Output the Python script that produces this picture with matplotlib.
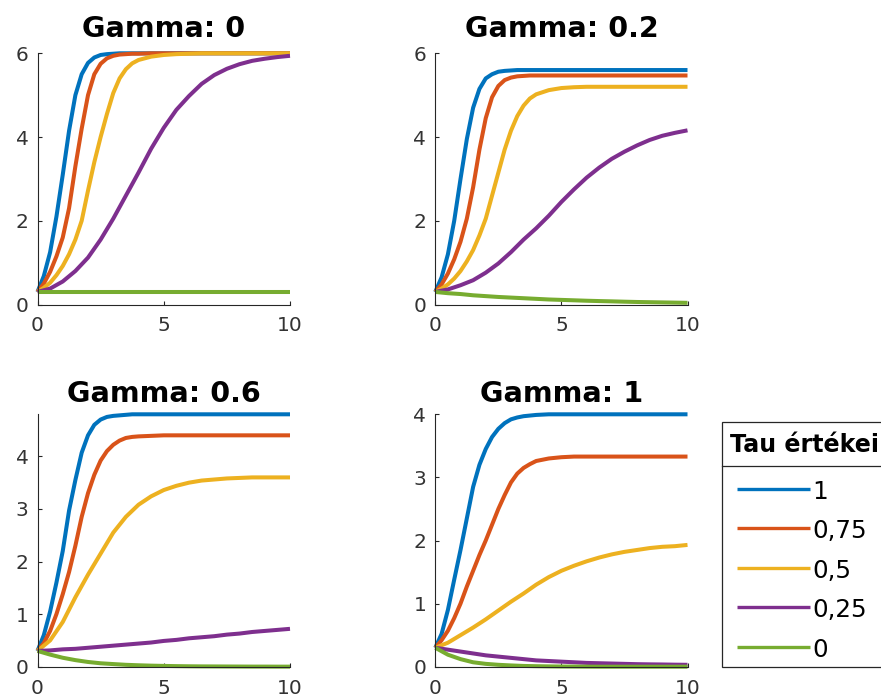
import matplotlib
matplotlib.use("Agg")
import matplotlib.pyplot as plt
from matplotlib.patches import Rectangle

plt.rcParams['font.family'] = ['DejaVu Sans']

# ---- data ----
t_fine = [0, 0.25, 0.5, 0.75, 1, 1.25, 1.5, 1.75, 2, 2.25, 2.5, 2.75, 3, 3.25, 3.5, 3.75, 4,
          4.5, 5, 5.5, 6, 6.5, 7, 7.5, 8, 8.5, 9, 9.5, 10]
t_coarse = [0, 0.5, 1, 1.5, 2, 2.5, 3, 3.5, 4, 4.5, 5, 5.5, 6, 6.5, 7, 7.5, 8, 8.5, 9, 9.5, 10]

tau_labels = ['1', '0,75', '0,5', '0,25', '0']
gamma_titles = ['Gamma: 0', 'Gamma: 0.2', 'Gamma: 0.6', 'Gamma: 1']

# Gamma 0
g0_tau1 = [0.3, 0.68, 1.25, 2.1, 3.1, 4.15, 5.0, 5.5, 5.77, 5.9, 5.96, 5.98, 5.99, 6.0, 6.0, 6.0, 6.0,
           6.0, 6.0, 6.0, 6.0, 6.0, 6.0, 6.0, 6.0, 6.0, 6.0, 6.0, 6.0]
g0_tau075 = [0.3, 0.5, 0.78, 1.15, 1.6, 2.3, 3.3, 4.2, 5.0, 5.5, 5.75, 5.88, 5.94, 5.97, 5.98, 5.99, 5.99,
             6.0, 6.0, 6.0, 6.0, 6.0, 6.0, 6.0, 6.0, 6.0, 6.0, 6.0, 6.0]
g0_tau05 = [0.3, 0.4, 0.52, 0.7, 0.92, 1.2, 1.55, 2.0, 2.72, 3.4, 4.0, 4.55, 5.05, 5.4, 5.62, 5.76, 5.84,
            5.92, 5.96, 5.98, 5.99, 6.0, 6.0, 6.0, 6.0, 6.0, 6.0, 6.0, 6.0]
g0_tau025 = [0.3, 0.38, 0.55, 0.8, 1.12, 1.55, 2.05, 2.6, 3.15, 3.72, 4.22, 4.65, 4.98, 5.27, 5.48,
             5.63, 5.74, 5.82, 5.87, 5.91, 5.94]
g0_tau0 = [0.3] * 21

# Gamma 0.2
g02_tau1 = [0.3, 0.65, 1.2, 2.0, 3.0, 3.95, 4.7, 5.15, 5.4, 5.5, 5.56, 5.58, 5.59, 5.6, 5.6, 5.6, 5.6,
            5.6, 5.6, 5.6, 5.6, 5.6, 5.6, 5.6, 5.6, 5.6, 5.6, 5.6, 5.6]
g02_tau075 = [0.3, 0.48, 0.74, 1.08, 1.5, 2.05, 2.8, 3.7, 4.45, 4.95, 5.22, 5.36, 5.42, 5.45, 5.46, 5.47, 5.47,
              5.47, 5.47, 5.47, 5.47, 5.47, 5.47, 5.47, 5.47, 5.47, 5.47, 5.47, 5.47]
g02_tau05 = [0.3, 0.38, 0.48, 0.62, 0.8, 1.03, 1.3, 1.65, 2.05, 2.6, 3.15, 3.7, 4.15, 4.5, 4.75, 4.92, 5.02,
             5.12, 5.17, 5.19, 5.2, 5.2, 5.2, 5.2, 5.2, 5.2, 5.2, 5.2, 5.2]
g02_tau025 = [0.3, 0.36, 0.46, 0.58, 0.76, 0.98, 1.25, 1.55, 1.82, 2.12, 2.45, 2.75, 3.03, 3.27, 3.48,
              3.65, 3.8, 3.93, 4.03, 4.1, 4.16]
g02_tau0 = [0.3, 0.27, 0.25, 0.22, 0.2, 0.18, 0.165, 0.15, 0.135, 0.12, 0.11, 0.1, 0.09, 0.082, 0.075,
            0.067, 0.06, 0.055, 0.05, 0.045, 0.04]

# Gamma 0.6
g06_tau1 = [0.3, 0.6, 1.05, 1.6, 2.2, 2.97, 3.55, 4.07, 4.4, 4.6, 4.7, 4.75, 4.77, 4.78, 4.79, 4.8, 4.8,
            4.8, 4.8, 4.8, 4.8, 4.8, 4.8, 4.8, 4.8, 4.8, 4.8, 4.8, 4.8]
g06_tau075 = [0.3, 0.45, 0.68, 1.0, 1.38, 1.8, 2.3, 2.85, 3.3, 3.65, 3.92, 4.1, 4.22, 4.3, 4.35, 4.37, 4.38,
              4.39, 4.4, 4.4, 4.4, 4.4, 4.4, 4.4, 4.4, 4.4, 4.4, 4.4, 4.4]
g06_tau05 = [0.3, 0.5, 0.85, 1.32, 1.75, 2.15, 2.55, 2.85, 3.08, 3.24, 3.36, 3.44, 3.5, 3.54, 3.56,
             3.58, 3.59, 3.6, 3.6, 3.6, 3.6]
g06_tau025 = [0.3, 0.31, 0.33, 0.34, 0.36, 0.38, 0.4, 0.42, 0.44, 0.46, 0.49, 0.51, 0.54, 0.56, 0.58,
              0.61, 0.63, 0.66, 0.68, 0.7, 0.72]
g06_tau0 = [0.3, 0.23, 0.17, 0.125, 0.09, 0.065, 0.05, 0.036, 0.027, 0.02, 0.015, 0.011, 0.008, 0.006,
            0.005, 0.004, 0.003, 0.002, 0.002, 0.001, 0.001]

# Gamma 1
g1_tau1 = [0.3, 0.52, 0.9, 1.38, 1.85, 2.35, 2.85, 3.2, 3.45, 3.64, 3.77, 3.86, 3.92, 3.95, 3.97, 3.98, 3.99,
           4.0, 4.0, 4.0, 4.0, 4.0, 4.0, 4.0, 4.0, 4.0, 4.0, 4.0, 4.0]
g1_tau075 = [0.3, 0.42, 0.57, 0.77, 1.0, 1.27, 1.52, 1.77, 2.0, 2.25, 2.5, 2.72, 2.92, 3.06, 3.15, 3.21, 3.26,
             3.3, 3.32, 3.33, 3.33, 3.33, 3.33, 3.33, 3.33, 3.33, 3.33, 3.33, 3.33]
g1_tau05 = [0.3, 0.38, 0.5, 0.62, 0.75, 0.89, 1.03, 1.16, 1.3, 1.42, 1.52, 1.6, 1.67, 1.73, 1.78,
            1.82, 1.85, 1.88, 1.9, 1.91, 1.93]
g1_tau025 = [0.3, 0.27, 0.24, 0.21, 0.18, 0.16, 0.14, 0.12, 0.1, 0.09, 0.08, 0.07, 0.06, 0.055, 0.05,
             0.045, 0.04, 0.037, 0.035, 0.032, 0.03]
g1_tau0 = [0.3, 0.19, 0.12, 0.07, 0.045, 0.03, 0.02, 0.012, 0.008, 0.005, 0.003, 0.002, 0.001,
           0.0, 0.0, 0.0, 0.0, 0.0, 0.0, 0.0, 0.0]

panels = [
    [(t_fine, g0_tau1), (t_fine, g0_tau075), (t_fine, g0_tau05), (t_coarse, g0_tau025), (t_coarse, g0_tau0)],
    [(t_fine, g02_tau1), (t_fine, g02_tau075), (t_fine, g02_tau05), (t_coarse, g02_tau025), (t_coarse, g02_tau0)],
    [(t_fine, g06_tau1), (t_fine, g06_tau075), (t_coarse, g06_tau05), (t_coarse, g06_tau025), (t_coarse, g06_tau0)],
    [(t_fine, g1_tau1), (t_fine, g1_tau075), (t_coarse, g1_tau05), (t_coarse, g1_tau025), (t_coarse, g1_tau0)],
]
y_limits = [(0, 6), (0, 6), (0, 4.8), (0, 4)]
y_ticks = [[0, 2, 4, 6], [0, 2, 4, 6], [0, 1, 2, 3, 4], [0, 1, 2, 3, 4]]
x_ticks = [0, 5, 10]

# ---- style ----
colors = ['#0072BD', '#D95319', '#EDB120', '#7E2F8E', '#77AC30']
W, H = 881, 697
fig = plt.figure(figsize=(W / 100, H / 100), dpi=100)

# axes boxes in pixels: left, right, top, bottom
boxes = [(37.5, 290, 53.3, 304.5), (435.3, 687.5, 53.3, 304.5),
         (37.5, 290, 414.3, 666.7), (435.3, 687.5, 414.3, 666.7)]
title_pads = [11.5, 11.5, 8.6, 8.6]
axc = '#262626'

for i, (l, r, t, b) in enumerate(boxes):
    ax = fig.add_axes([l / W, (H - b) / H, (r - l) / W, (b - t) / H])
    for j, (xs, ys) in enumerate(panels[i]):
        ax.plot(xs, ys, color=colors[j], lw=2.9, clip_on=False, solid_capstyle='butt',
                solid_joinstyle='round')
    ax.set_xlim(0, 10)
    ax.set_ylim(*y_limits[i])
    ax.set_xticks(x_ticks)
    ax.set_yticks(y_ticks[i])
    for s in ['top', 'right']:
        ax.spines[s].set_visible(False)
    for s in ['left', 'bottom']:
        ax.spines[s].set_color(axc)
        ax.spines[s].set_linewidth(0.8)
    ax.tick_params(axis='both', direction='in', length=3, width=0.8, color=axc,
                   labelsize=14.5, labelcolor='#333333')
    ax.tick_params(axis='x', pad=8.5)
    ax.tick_params(axis='y', pad=6.5)
    ax.set_title(gamma_titles[i], fontsize=20.6, fontweight='bold', pad=title_pads[i], color='black')
    ax.patch.set_visible(False)

# ---- legend drawn in pixel coordinates ----
lax = fig.add_axes([0, 0, 1, 1])
lax.set_xlim(0, W)
lax.set_ylim(H, 0)
lax.axis('off')
lax.add_patch(Rectangle((721.7, 421.7), 200, 245, fill=True, facecolor='white',
                        edgecolor=axc, lw=0.9, clip_on=False))
lax.plot([721.7, 890], [465.7, 465.7], color=axc, lw=0.9)
lax.text(730, 452.3, 'Tau értékei', fontsize=17.1, fontweight='bold', va='baseline', ha='left', color='black')
entry_y = [489.3, 527.7, 567.7, 606.7, 646.7]
for k, yy in enumerate(entry_y):
    lax.plot([737, 810], [yy, yy], color=colors[k], lw=2.4, solid_capstyle='butt')
    lax.text(812, yy + 10, tau_labels[k], fontsize=17.7, va='baseline', ha='left', color='black')

fig.savefig('out.png', dpi=100)
